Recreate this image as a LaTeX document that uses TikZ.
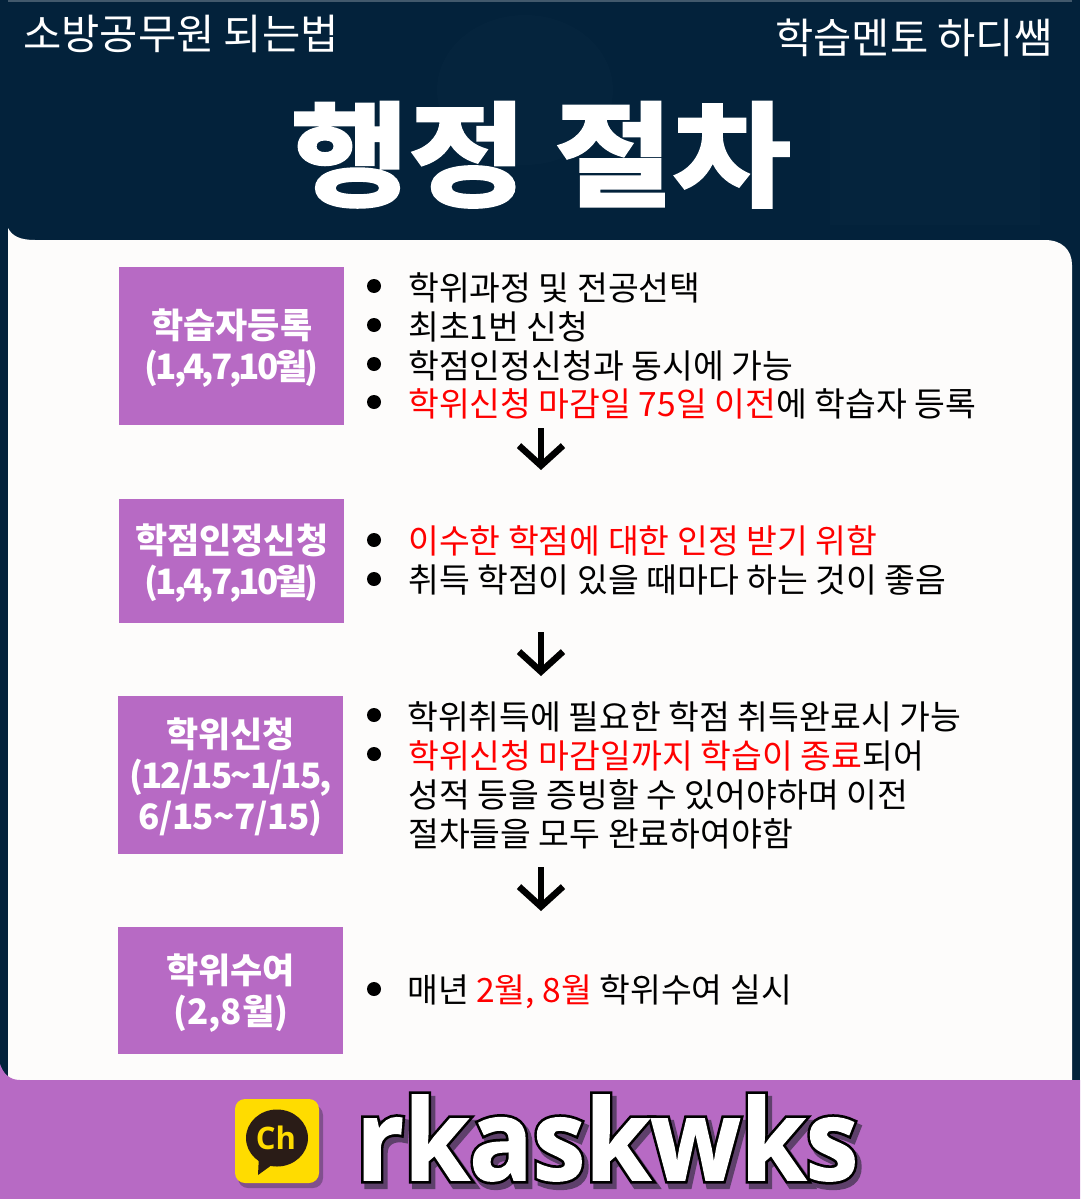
\documentclass[tikz,border=0pt]{standalone}
\usepackage{fontspec}
\usetikzlibrary{arrows.meta}
\setmainfont{Noto Sans CJK KR}
\newfontfamily\krfont{Noto Sans CJK KR}
\newfontfamily\titlefont[BoldFont={Noto Sans CJK KR Bold},BoldFeatures={FakeBold=3}]{Noto Sans CJK KR}
\newfontfamily\tighta[LetterSpace=-8.5]{Noto Sans CJK KR}
\newfontfamily\tightb[LetterSpace=-5.5]{Noto Sans CJK KR}
\newfontfamily\tightc[LetterSpace=-2]{Noto Sans CJK KR}
\newfontfamily\latinbold{Open Sans}
\definecolor{navy}{HTML}{03223B}
\definecolor{panel}{HTML}{FDFCFB}
\definecolor{plum}{HTML}{B76AC4}
\definecolor{hot}{HTML}{FF0000}
\definecolor{kakao}{HTML}{FFDC00}
\definecolor{bubble}{HTML}{2A1C17}
\definecolor{shadowplum}{HTML}{5E3F6B}
\newcommand{\outl}[3]{\special{pdf:code q 2 Tr #1 w #2 RG #3 rg}}
\newcommand{\outr}{\special{pdf:code 0 Tr Q}}
\tikzset{
  body/.style={anchor=base west,inner sep=0pt,font=\krfont\fontsize{33.5}{33.5}\selectfont,text=black},
  step box/.style={fill=plum,anchor=north west,inner sep=0pt},
  box label/.style={anchor=center,inner sep=0pt,align=center,text=white,font=\krfont\bfseries\fontsize{35}{41}\selectfont},
  bullet dot/.style={circle,fill=black,minimum size=14pt,inner sep=0pt},
  down arrow/.style={line width=6.5pt,-{Straight Barb[length=20pt,width=44pt,line width=6.5pt]},black},
  head small/.style={anchor=base west,inner sep=0pt,text=white,font=\krfont\fontsize{41.6}{41.6}\selectfont},
}
\begin{document}
\begin{tikzpicture}[x=1pt,y=-1pt]
\useasboundingbox (0,0) rectangle (1080,1199);
% backgrounds
\fill[navy] (0,0) rectangle (1080,1199);
\fill[white,opacity=.25] (8,0) rectangle (1072,2);
\fill[white,opacity=.012] (525,90) ellipse (88 and 75);
\fill[white,opacity=.01] (830,70) rectangle (1040,225);
% panel with rounded top-right and concave top-left
\fill[panel] (8,228) .. controls (12,236) and (20,240) .. (35,240)
  -- (1045,240) .. controls (1062,240) and (1072,250) .. (1072,265)
  -- (1072,1080) -- (8,1080) -- cycle;
% purple footer
\fill[plum] (0,1064) .. controls (3,1073) and (9,1080) .. (20,1080) -- (1080,1080) -- (1080,1199) -- (0,1199) -- cycle;

% title and heads
\node[head small] (headL) at (23,49) {소방공무원 되는법};
\node[head small] (headR) at (775,54) {학습멘토 하디쌤};
\node[anchor=base,inner sep=0pt,text=white] (title) at (541,197)
  {\scalebox{1.13}[1]{\titlefont\bfseries\fontsize{113}{113}\selectfont 행정 절차}};

% step boxes
\node[step box,minimum width=225pt,minimum height=158pt] (b1) at (119,267) {};
\node[step box,minimum width=225pt,minimum height=124pt] (b2) at (119,499) {};
\node[step box,minimum width=225pt,minimum height=158pt] (b3) at (118,696) {};
\node[step box,minimum width=225pt,minimum height=127pt] (b4) at (118,927) {};
\node[box label,yshift=-2pt] (l1) at (b1.center) {학습자등록\\{\tighta\bfseries (1,4,7,10월)}};
\node[box label,yshift=-2pt] (l2) at (b2.center) {학점인정신청\\{\tighta\bfseries (1,4,7,10월)}};
\node[box label,yshift=-2pt] (l3) at (b3.center) {학위신청\\{\tightb\bfseries (12/15\textasciitilde1/15,}\\{\tightc\bfseries 6/15\textasciitilde7/15)}};
\node[box label,yshift=-2pt] (l4) at (b4.center) {학위수여\\(2,8월)};

% bullets
\foreach \n/\y in {d1/286,d2/325,d3/364,d4/402,d5/540,d6/579,d7/715,d8/754,d9/989}
  \node[bullet dot] (\n) at (374,\y) {};

% body texts
\node[body] (t1) at (408,300) {학위과정 및 전공선택};
\node[body] (t2) at (408,339) {최초1번 신청};
\node[body] (t3) at (408,378) {학점인정신청과 동시에 가능};
\node[body] (t4) at (408,416) {\textcolor{hot}{학위신청 마감일 75일 이전}에 학습자 등록};
\node[body] (t5) at (408,553) {\textcolor{hot}{이수한 학점에 대한 인정 받기 위함}};
\node[body] (t6) at (408,592) {취득 학점이 있을 때마다 하는 것이 좋음};
\node[body] (t7) at (407,729) {학위취득에 필요한 학점 취득완료시 가능};
\node[body] (t8) at (408,768) {\textcolor{hot}{학위신청 마감일까지 학습이 종료}되어};
\node[body] (t9) at (408,807) {성적 등을 증빙할 수 있어야하며 이전};
\node[body] (t10) at (408,846) {절차들을 모두 완료하여야함};
\node[body] (t11) at (407,1002) {매년 \textcolor{hot}{2월, 8월} 학위수여 실시};

% arrows
\coordinate (a1s) at (541,428); \coordinate (a1e) at (541,470);
\coordinate (a2s) at (541,632); \coordinate (a2e) at (541,676);
\coordinate (a3s) at (541,867); \coordinate (a3e) at (541,911);
\draw[down arrow] (a1s) -- (a1e);
\draw[down arrow] (a2s) -- (a2e);
\draw[down arrow] (a3s) -- (a3e);

% logo
\fill[shadowplum,opacity=.6,rounded corners=10pt] (238,1105) rectangle (323,1188);
\fill[kakao,rounded corners=10pt] (235,1099) rectangle (319,1183);
\fill[bubble] (277,1138) ellipse (31 and 28.5);
\fill[bubble] (259,1155) -- (258,1175) -- (276,1162) -- cycle;
\node[inner sep=0pt,text=kakao,font=\latinbold\bfseries\fontsize{31}{31}\selectfont] (ch) at (276,1138) {Ch};

% word mark: shadow, black outline and white face in one node
\node[anchor=base west,inner sep=0pt,text=white,font=\latinbold\bfseries\fontsize{112}{112}\selectfont] (word) at (356,1180)
  {\scalebox{.94}[1]{\rlap{\raisebox{-5pt}{\kern4pt\outl{8}{.37 .25 .42}{.37 .25 .42}rkaskwks\outr}}\rlap{\outl{7}{0 0 0}{0 0 0}rkaskwks\outr}\outl{1.5}{1 1 1}{1 1 1}rkaskwks\outr}};
\end{tikzpicture}
\end{document}
